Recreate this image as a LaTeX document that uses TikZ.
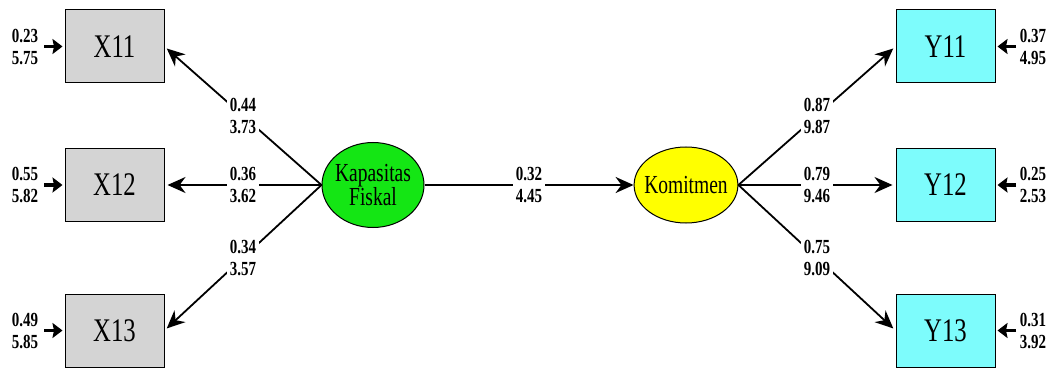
\documentclass[tikz,border=0pt]{standalone}
\usepackage{fontspec}
\setmainfont{Liberation Serif}[FakeStretch=0.75]
\usetikzlibrary{arrows.meta,shapes.geometric}
\definecolor{boxgray}{RGB}{212,212,212}
\definecolor{boxcyan}{RGB}{125,252,252}
\definecolor{latgreen}{RGB}{20,230,20}
\definecolor{latyellow}{RGB}{255,255,0}
\tikzset{
  obsx/.style={draw=black, line width=1pt, fill=boxgray, minimum width=99pt, minimum height=73pt, inner sep=0pt, font=\fontsize{33}{34}\selectfont},
  obsy/.style={obsx, fill=boxcyan},
  latent/.style={ellipse, draw=black, line width=1pt, inner xsep=-5pt, inner ysep=0pt, align=center, font=\fontsize{26}{22}\selectfont},
  path/.style={line width=1.8pt, -{Stealth[length=18pt,width=16pt]}, shorten >=3pt},
  err/.style={line width=3.2pt, -{Stealth[length=10pt,width=15pt,inset=1.5pt]}, shorten >=2pt},
  coef/.style={fill=white, inner sep=3pt, align=center, font=\bfseries\fontsize{20}{22}\selectfont},
  errlab/.style={inner sep=0pt, align=center, font=\bfseries\fontsize{20}{22}\selectfont}
}
\begin{document}
\begin{tikzpicture}[x=1pt,y=1pt]
\useasboundingbox (0,0) rectangle (1052,370);

% indicator boxes
\node[obsx] (x11) at (114.5,323.5) {X11};
\node[obsx] (x12) at (114.5,185) {X12};
\node[obsx] (x13) at (114.5,39.5) {X13};
\node[obsy] (y11) at (945.5,323.5) {Y11};
\node[obsy] (y12) at (945.5,185) {Y12};
\node[obsy] (y13) at (945.5,39.5) {Y13};

% latent variables
\node[latent, fill=latgreen, minimum width=102pt, minimum height=85pt] (kf) at (373,185) {Kapasitas\\Fiskal};
\node[latent, fill=latyellow, minimum width=102pt, minimum height=76pt] (km) at (686,185) {Komitmen};

% loadings of Kapasitas Fiskal
\draw[path] (kf.west) -- node[coef] {0.44\\3.73} (x11.east);
\draw[path] (kf.west) -- node[coef] {0.36\\3.62} (x12.east);
\draw[path] (kf.west) -- node[coef] {0.34\\3.57} (x13.east);

% structural path
\draw[path, shorten >=0pt] (kf.east) -- node[coef] {0.32\\4.45} (km.west);

% loadings of Komitmen
\draw[path] (km.east) -- node[coef] {0.87\\9.87} (y11.west);
\draw[path] (km.east) -- node[coef] {0.79\\9.46} (y12.west);
\draw[path] (km.east) -- node[coef] {0.75\\9.09} (y13.west);

% measurement errors
\coordinate (ex11) at (44,323.5);
\coordinate (ex12) at (44,185);
\coordinate (ex13) at (44,39.5);
\coordinate (ey11) at (1016,323.5);
\coordinate (ey12) at (1016,185);
\coordinate (ey13) at (1016,39.5);
\draw[err] (ex11) -- (x11.west);
\draw[err] (ex12) -- (x12.west);
\draw[err] (ex13) -- (x13.west);
\draw[err] (ey11) -- (y11.east);
\draw[err] (ey12) -- (y12.east);
\draw[err] (ey13) -- (y13.east);
\node[errlab] (lx11) at (25,323.5) {0.23\\5.75};
\node[errlab] (lx12) at (25,185) {0.55\\5.82};
\node[errlab] (lx13) at (25,39.5) {0.49\\5.85};
\node[errlab] (ly11) at (1033,323.5) {0.37\\4.95};
\node[errlab] (ly12) at (1033,185) {0.25\\2.53};
\node[errlab] (ly13) at (1033,39.5) {0.31\\3.92};
\end{tikzpicture}
\end{document}
